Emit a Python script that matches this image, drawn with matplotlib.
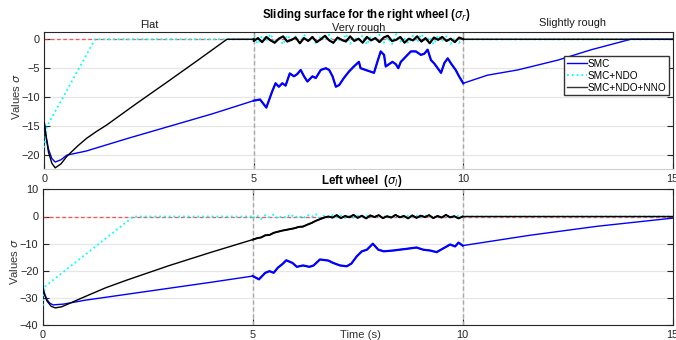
import numpy as np
import matplotlib
matplotlib.use("Agg")
import matplotlib.pyplot as plt

plt.rcParams["font.family"] = ["Liberation Sans", "DejaVu Sans"]
plt.rcParams["mathtext.fontset"] = "dejavusans"

# ---------------- right wheel (sigma_r) ----------------
# SMC
r_smc_t = [0.0, 0.05, 0.1, 0.18, 0.26, 0.4, 0.54, 1.0, 2.0, 3.0, 4.0, 5.0,
           5.15, 5.30, 5.44, 5.52, 5.60, 5.68, 5.76, 5.86, 5.96, 6.04, 6.12, 6.20, 6.28,
           6.40, 6.48, 6.60, 6.72, 6.80, 6.88, 6.96, 7.04, 7.15, 7.27, 7.39, 7.51, 7.55,
           7.67, 7.79, 7.87, 7.95, 8.03, 8.11, 8.15, 8.23, 8.31, 8.39, 8.45, 8.51, 8.63,
           8.75, 8.87, 8.99, 9.07, 9.15, 9.23, 9.31, 9.39, 9.47, 9.55, 9.63, 9.71, 9.82,
           9.90, 10.0,
           10.58, 11.30, 12.26, 13.06, 14.0, 15.0]
r_smc_v = [-14.4, -17.0, -19.0, -20.6, -21.2, -20.8, -20.0, -19.3, -17.1, -15.0, -12.9, -10.6,
           -10.4, -11.8, -9.0, -7.6, -8.2, -7.6, -8.0, -5.9, -6.4, -6.0, -5.3, -6.4, -7.3,
           -6.4, -6.7, -5.3, -5.0, -5.3, -6.4, -8.2, -7.9, -6.7, -5.6, -4.7, -3.9, -5.0,
           -5.3, -5.6, -5.8, -3.9, -2.1, -2.7, -4.7, -4.3, -3.9, -4.3, -5.0, -3.9, -3.0,
           -2.1, -2.1, -2.7, -2.5, -1.8, -3.6, -4.2, -5.0, -5.8, -4.1, -3.3, -4.2, -5.3,
           -6.4, -7.6,
           -6.2, -5.3, -3.6, -1.8, 0.0, 0.0]

# SMC+NDO
r_ndo_t = [0.0, 0.06, 1.21, 5.0]
r_ndo_v = [-18.7, -15.1, 0.0, 0.0]
r_ndo_rough = [0.4, -0.8, 0.6, -0.3, 0.9, -0.6, 0.2, -0.9, 0.7, -0.2,
               0.5, -0.7, 0.8, -0.4, 0.3, -0.9, 0.6, -0.1, 0.8, -0.7,
               0.2, -0.5, 0.9, -0.8, 0.4, -0.3, 0.7, -0.9, 0.5, -0.2,
               0.8, -0.6, 0.3, -0.8, 0.9, -0.4, 0.1, -0.7, 0.6, -0.5,
               0.9, -0.3, 0.4, -0.9, 0.7, -0.2, 0.5, -0.8, 0.3, -0.6, 0.0]
r_ndo_tail_t = [10.0, 15.0]
r_ndo_tail_v = [0.0, 0.0]

# SMC+NDO+NNO
r_nno_t = [0.0, 0.05, 0.1, 0.18, 0.26, 0.4, 0.54, 0.8, 1.01, 1.25, 1.49,
           2.2, 2.93, 3.65, 4.36, 5.0]
r_nno_v = [-14.4, -17.2, -19.5, -21.4, -22.2, -21.5, -20.2, -18.4, -17.1, -15.9, -14.8,
           -11.1, -7.4, -3.7, 0.0, 0.0]
r_nno_rough = [-0.3, 0.2, -0.5, 0.4, -0.2, -0.6, 0.1, 0.5, -0.4, -0.1,
               0.3, -0.7, 0.2, -0.3, 0.4, -0.5, 0.0, 0.6, -0.2, -0.6,
               0.3, -0.1, -0.4, 0.5, -0.3, 0.1, -0.6, 0.4, -0.2, 0.2,
               -0.5, 0.3, 0.6, -0.3, -0.1, 0.4, -0.6, 0.1, -0.2, 0.5,
               -0.4, 0.2, -0.7, 0.3, -0.1, 0.4, -0.3, 0.1, -0.5, 0.3, 0.0]
r_nno_tail_t = [10.0, 15.0]
r_nno_tail_v = [0.0, 0.0]

# ---------------- left wheel (sigma_l) ----------------
l_smc_t = [0.0, 0.05, 0.1, 0.17, 0.25, 0.5, 1.0, 2.0, 3.0, 4.0, 5.0,
           5.10, 5.15, 5.30, 5.40, 5.50, 5.60, 5.70, 5.80, 5.95, 6.05, 6.20, 6.35, 6.45,
           6.60, 6.80, 6.92, 7.08, 7.24, 7.35, 7.48, 7.60, 7.72, 7.86, 7.99, 8.12, 8.35,
           8.50, 8.66, 8.90, 9.06, 9.22, 9.38, 9.54, 9.70, 9.82, 9.90, 10.0,
           11.6, 13.2, 15.0]
l_smc_v = [-25.5, -28.6, -30.5, -31.9, -32.5, -32.2, -30.8, -28.6, -26.4, -24.2, -21.9,
           -22.7, -23.1, -20.7, -20.1, -20.7, -18.8, -17.6, -16.1, -17.1, -18.5, -18.0,
           -18.5, -18.0, -15.8, -16.2, -17.1, -18.0, -18.3, -17.3, -14.6, -12.8, -12.2,
           -10.0, -12.2, -12.8, -12.5, -12.2, -11.9, -11.4, -12.2, -12.5, -13.1, -11.7,
           -10.3, -11.0, -9.6, -10.7,
           -6.9, -3.6, -0.6]

l_ndo_t = [0.0, 0.05, 2.16, 5.0]
l_ndo_v = [-32.8, -25.8, 0.0, 0.0]
l_ndo_rough = [-0.6, 0.4, -0.9, 0.5, -0.3, 0.7, -0.8, 0.2, -0.5, 0.8,
               -0.4, 0.3, -0.7, 0.6, -0.2, 0.9, -0.6, 0.3, -0.4, 0.5,
               -0.3, 0.4, -0.5, 0.2, -0.4, 0.3, -0.2, 0.4, -0.3, 0.2,
               -0.4, 0.3, -0.2, 0.1, -0.3, 0.2, -0.4, 0.3, -0.1, 0.2,
               -0.3, 0.4, -0.2, 0.1, -0.3, 0.2, -0.4, 0.1, -0.2, 0.3, 0.0]
l_ndo_tail_t = [10.0, 15.0]
l_ndo_tail_v = [0.0, 0.0]

l_nno_t = [0.0, 0.05, 0.1, 0.2, 0.3, 0.45, 0.6, 1.0, 1.5, 2.0, 3.0, 4.0]
l_nno_v = [-26.0, -29.0, -31.0, -33.0, -33.6, -33.2, -32.2, -29.5, -26.2, -23.4, -18.1, -13.2]
l_nno_rough = [-8.5, -8.0, -7.7, -6.9, -6.8, -6.0, -5.6, -5.2, -4.9, -4.6,
               -4.3, -3.8, -3.7, -3.0, -2.4, -1.6, -1.0, -0.4, 0.0, -0.4,
               0.5, -0.6, 0.2, -0.3, 0.6, -0.5, 0.3, -0.7, 0.4, -0.2,
               0.5, -0.6, 0.1, -0.4, 0.6, -0.3, 0.2, -0.7, 0.4, -0.5,
               0.3, -0.2, 0.5, -0.6, 0.2, -0.4, 0.6, -0.3, 0.1, -0.7, 0.0]
l_nno_tail_t = [10.0, 15.0]
l_nno_tail_v = [0.0, 0.0]

rough_t = np.round(np.arange(5.0, 10.001, 0.1), 2)

regions = [(2.5, "Flat", 25), (7.5, "Very rough", 28), (12.6, "Slightly rough", 23)]

BLUE, CYAN, BLACK = "#0000ff", "#00ffff", "#000000"
W, H = 676, 340


def join(t0, v0, vr, t1, v1):
    t = np.concatenate([t0, rough_t, t1])
    v = np.concatenate([v0, vr, v1])
    return t, v


fig = plt.figure(figsize=(W / 100, H / 100), dpi=100)
ax_r = fig.add_axes([44.3 / W, 1 - 169 / H, 628.4 / W, 136.7 / H])
ax_l = fig.add_axes([42.7 / W, 1 - 325.3 / H, 630 / W, 136 / H])


def style(ax, ylim, yticks):
    ax.set_xlim(0, 15)
    ax.set_ylim(*ylim)
    ax.set_xticks([0, 5, 10, 15])
    ax.set_yticks(yticks)
    ax.grid(True, color="#e6e6e6", linewidth=0.9)
    ax.set_axisbelow(True)
    ax.tick_params(direction="in", length=4, width=0.8, labelsize=7.9,
                   colors="#262626", top=True, right=True, pad=3)
    ax.tick_params(axis="x", pad=3.5)
    for sp in ax.spines.values():
        sp.set_color("#262626")
        sp.set_linewidth(0.8)
    ax.axhline(0, color="#ff3030", linestyle=(0, (3, 2)), linewidth=0.9, alpha=0.8, zorder=1)
    for xv in (5, 10):
        ax.axvline(xv, color="#a8a8a8", linestyle=(0, (3, 2)), linewidth=1.0, zorder=1)


style(ax_r, (-22.4, 1.2), [-20, -15, -10, -5, 0])
style(ax_l, (-40, 10), [-40, -30, -20, -10, 0, 10])
ax_r.spines["bottom"].set_color("#cfcfcf")

# right wheel curves
smc_r_line, = ax_r.plot(r_smc_t, r_smc_v, color=BLUE, linewidth=1.0, zorder=3, label="SMC")
m = (np.array(r_smc_t) >= 5) & (np.array(r_smc_t) <= 10)
ax_r.plot(np.array(r_smc_t)[m], np.array(r_smc_v)[m], color=BLUE, linewidth=1.6, zorder=3)
t, v = join(r_ndo_t, r_ndo_v, r_ndo_rough, r_ndo_tail_t, r_ndo_tail_v)
ndo_r_line, = ax_r.plot(t, v, color=CYAN, linestyle=":", linewidth=1.3, zorder=4, label="SMC+NDO")
t, v = join(r_nno_t, r_nno_v, r_nno_rough, r_nno_tail_t, r_nno_tail_v)
ax_r.plot(t, v, color=BLACK, linewidth=1.0, zorder=5)
m = (t >= 5) & (t <= 10)
ax_r.plot(t[m], v[m], color=BLACK, linewidth=1.5, zorder=5)

leg_nno, = ax_r.plot([], [], color="#333333", linewidth=1.0, label="SMC+NDO+NNO")
ax_r.legend(handles=[smc_r_line, ndo_r_line, leg_nno], loc="upper right",
            bbox_to_anchor=(0.994, 0.825), fontsize=7.2, frameon=True, fancybox=False,
            edgecolor="#333333", framealpha=1, borderpad=0.25, labelspacing=0.2,
            handlelength=2.0, handletextpad=0.1, borderaxespad=0)

# left wheel curves
ax_l.plot(l_smc_t, l_smc_v, color=BLUE, linewidth=1.0, zorder=3)
m = (np.array(l_smc_t) >= 5) & (np.array(l_smc_t) <= 10)
ax_l.plot(np.array(l_smc_t)[m], np.array(l_smc_v)[m], color=BLUE, linewidth=1.6, zorder=3)
t, v = join(l_ndo_t, l_ndo_v, l_ndo_rough, l_ndo_tail_t, l_ndo_tail_v)
ax_l.plot(t, v, color=CYAN, linestyle=":", linewidth=1.3, zorder=4)
t, v = join(l_nno_t, l_nno_v, l_nno_rough, l_nno_tail_t, l_nno_tail_v)
ax_l.plot(t, v, color=BLACK, linewidth=1.0, zorder=5)
m = (t >= 5) & (t <= 10)
ax_l.plot(t[m], v[m], color=BLACK, linewidth=1.4, zorder=5)

# titles, region names and axis labels
fig.text(366 / W, 1 - 15 / H, r"Sliding surface for the right wheel ($\sigma_r$)",
         ha="center", va="center", fontsize=8.3, fontweight="bold")
fig.text(362 / W, 1 - 181 / H, r"Left wheel  ($\sigma_l$)",
         ha="center", va="center", fontsize=8.3, fontweight="bold")
for xt, name, ypx in regions:
    fig.text((44.3 + xt * 41.9) / W, 1 - ypx / H, name, ha="center", va="center",
             fontsize=7.9, color="#1a1a1a")
fig.text(16 / W, 1 - 97 / H, r"Values $\sigma$", rotation=90, ha="center", va="center",
         fontsize=8.1, color="#333333")
fig.text(14 / W, 1 - 262 / H, r"Values $\sigma$", rotation=90, ha="center", va="center",
         fontsize=8.1, color="#333333")
fig.text(360 / W, 1 - 335 / H, "Time (s)", ha="center", va="center",
         fontsize=8.1, color="#333333")

fig.savefig("out.png", dpi=100)
